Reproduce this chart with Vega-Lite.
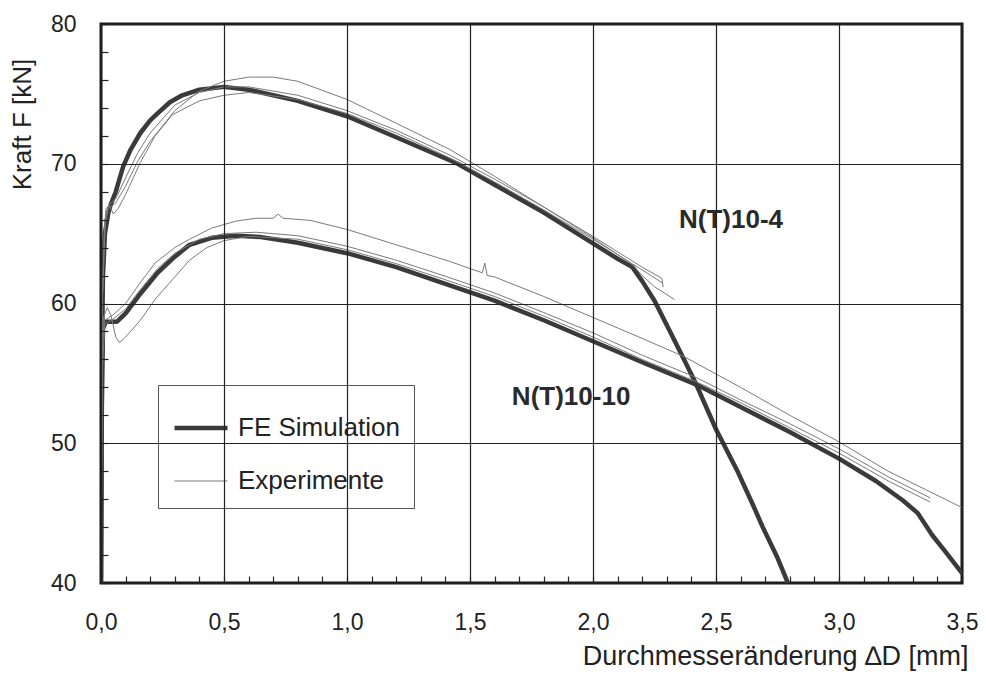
{
  "$schema": "https://vega.github.io/schema/vega-lite/v6.json",
  "width": 861,
  "height": 559,
  "autosize": {"type": "none"},
  "padding": {"left": 101, "top": 24, "right": 24, "bottom": 100},
  "background": "white",
  "config": {
    "view": {"stroke": "#1a1a1a", "strokeWidth": 3},
    "font": "Liberation Sans"
  },
  "datasets": {
    "curves": [
      {"s":"FE4","t":"FE Simulation","x":0,"y":40},{"s":"FE4","t":"FE Simulation","x":0.003,"y":55},{"s":"FE4","t":"FE Simulation","x":0.008,"y":62},{"s":"FE4","t":"FE Simulation","x":0.016,"y":65},{"s":"FE4","t":"FE Simulation","x":0.03,"y":66.5},{"s":"FE4","t":"FE Simulation","x":0.04,"y":67.1},{"s":"FE4","t":"FE Simulation","x":0.06,"y":68},{"s":"FE4","t":"FE Simulation","x":0.09,"y":69.8},{"s":"FE4","t":"FE Simulation","x":0.12,"y":71},{"s":"FE4","t":"FE Simulation","x":0.16,"y":72.2},{"s":"FE4","t":"FE Simulation","x":0.2,"y":73.1},{"s":"FE4","t":"FE Simulation","x":0.23,"y":73.6},{"s":"FE4","t":"FE Simulation","x":0.28,"y":74.4},{"s":"FE4","t":"FE Simulation","x":0.33,"y":74.9},{"s":"FE4","t":"FE Simulation","x":0.4,"y":75.3},{"s":"FE4","t":"FE Simulation","x":0.5,"y":75.5},{"s":"FE4","t":"FE Simulation","x":0.6,"y":75.3},{"s":"FE4","t":"FE Simulation","x":0.7,"y":74.9},{"s":"FE4","t":"FE Simulation","x":0.8,"y":74.5},{"s":"FE4","t":"FE Simulation","x":1.0,"y":73.4},{"s":"FE4","t":"FE Simulation","x":1.2,"y":71.9},{"s":"FE4","t":"FE Simulation","x":1.45,"y":70},{"s":"FE4","t":"FE Simulation","x":1.6,"y":68.5},{"s":"FE4","t":"FE Simulation","x":1.8,"y":66.5},{"s":"FE4","t":"FE Simulation","x":2.0,"y":64.3},{"s":"FE4","t":"FE Simulation","x":2.1,"y":63.2},{"s":"FE4","t":"FE Simulation","x":2.16,"y":62.6},{"s":"FE4","t":"FE Simulation","x":2.2,"y":61.6},{"s":"FE4","t":"FE Simulation","x":2.25,"y":60.2},{"s":"FE4","t":"FE Simulation","x":2.31,"y":58.1},{"s":"FE4","t":"FE Simulation","x":2.37,"y":56},{"s":"FE4","t":"FE Simulation","x":2.42,"y":54.2},{"s":"FE4","t":"FE Simulation","x":2.5,"y":51},{"s":"FE4","t":"FE Simulation","x":2.59,"y":47.9},{"s":"FE4","t":"FE Simulation","x":2.65,"y":45.6},{"s":"FE4","t":"FE Simulation","x":2.69,"y":44},{"s":"FE4","t":"FE Simulation","x":2.75,"y":41.8},{"s":"FE4","t":"FE Simulation","x":2.79,"y":40.1},

      {"s":"FE10","t":"FE Simulation","x":0,"y":40},{"s":"FE10","t":"FE Simulation","x":0.003,"y":52},{"s":"FE10","t":"FE Simulation","x":0.008,"y":58.2},{"s":"FE10","t":"FE Simulation","x":0.02,"y":58.7},{"s":"FE10","t":"FE Simulation","x":0.065,"y":58.7},{"s":"FE10","t":"FE Simulation","x":0.1,"y":59.3},{"s":"FE10","t":"FE Simulation","x":0.16,"y":60.7},{"s":"FE10","t":"FE Simulation","x":0.23,"y":62.2},{"s":"FE10","t":"FE Simulation","x":0.29,"y":63.2},{"s":"FE10","t":"FE Simulation","x":0.36,"y":64.2},{"s":"FE10","t":"FE Simulation","x":0.45,"y":64.7},{"s":"FE10","t":"FE Simulation","x":0.55,"y":64.85},{"s":"FE10","t":"FE Simulation","x":0.65,"y":64.75},{"s":"FE10","t":"FE Simulation","x":0.8,"y":64.35},{"s":"FE10","t":"FE Simulation","x":1.0,"y":63.6},{"s":"FE10","t":"FE Simulation","x":1.2,"y":62.6},{"s":"FE10","t":"FE Simulation","x":1.4,"y":61.4},{"s":"FE10","t":"FE Simulation","x":1.6,"y":60.2},{"s":"FE10","t":"FE Simulation","x":1.8,"y":58.8},{"s":"FE10","t":"FE Simulation","x":2.0,"y":57.3},{"s":"FE10","t":"FE Simulation","x":2.2,"y":55.8},{"s":"FE10","t":"FE Simulation","x":2.42,"y":54.2},{"s":"FE10","t":"FE Simulation","x":2.6,"y":52.6},{"s":"FE10","t":"FE Simulation","x":2.8,"y":50.8},{"s":"FE10","t":"FE Simulation","x":3.0,"y":48.9},{"s":"FE10","t":"FE Simulation","x":3.15,"y":47.3},{"s":"FE10","t":"FE Simulation","x":3.26,"y":45.9},{"s":"FE10","t":"FE Simulation","x":3.32,"y":45},{"s":"FE10","t":"FE Simulation","x":3.38,"y":43.4},{"s":"FE10","t":"FE Simulation","x":3.43,"y":42.3},{"s":"FE10","t":"FE Simulation","x":3.5,"y":40.7},

      {"s":"E4a","t":"Experimente","x":0,"y":40},{"s":"E4a","t":"Experimente","x":0.005,"y":60},{"s":"E4a","t":"Experimente","x":0.015,"y":65.5},{"s":"E4a","t":"Experimente","x":0.03,"y":66.8},{"s":"E4a","t":"Experimente","x":0.06,"y":67.2},{"s":"E4a","t":"Experimente","x":0.1,"y":68.4},{"s":"E4a","t":"Experimente","x":0.15,"y":70.2},{"s":"E4a","t":"Experimente","x":0.2,"y":71.6},{"s":"E4a","t":"Experimente","x":0.3,"y":73.8},{"s":"E4a","t":"Experimente","x":0.4,"y":75.2},{"s":"E4a","t":"Experimente","x":0.5,"y":75.9},{"s":"E4a","t":"Experimente","x":0.6,"y":76.2},{"s":"E4a","t":"Experimente","x":0.7,"y":76.2},{"s":"E4a","t":"Experimente","x":0.8,"y":75.9},{"s":"E4a","t":"Experimente","x":1.0,"y":74.6},{"s":"E4a","t":"Experimente","x":1.2,"y":72.9},{"s":"E4a","t":"Experimente","x":1.42,"y":71.0},{"s":"E4a","t":"Experimente","x":1.6,"y":69.1},{"s":"E4a","t":"Experimente","x":1.8,"y":66.9},{"s":"E4a","t":"Experimente","x":2.0,"y":64.8},{"s":"E4a","t":"Experimente","x":2.2,"y":62.6},{"s":"E4a","t":"Experimente","x":2.28,"y":61.8},{"s":"E4a","t":"Experimente","x":2.285,"y":61.2},

      {"s":"E4b","t":"Experimente","x":0,"y":40},{"s":"E4b","t":"Experimente","x":0.005,"y":60},{"s":"E4b","t":"Experimente","x":0.015,"y":66},{"s":"E4b","t":"Experimente","x":0.03,"y":67},{"s":"E4b","t":"Experimente","x":0.06,"y":67.5},{"s":"E4b","t":"Experimente","x":0.1,"y":69},{"s":"E4b","t":"Experimente","x":0.15,"y":70.8},{"s":"E4b","t":"Experimente","x":0.2,"y":72.2},{"s":"E4b","t":"Experimente","x":0.3,"y":74.2},{"s":"E4b","t":"Experimente","x":0.4,"y":75.1},{"s":"E4b","t":"Experimente","x":0.5,"y":75.5},{"s":"E4b","t":"Experimente","x":0.6,"y":75.5},{"s":"E4b","t":"Experimente","x":0.8,"y":74.9},{"s":"E4b","t":"Experimente","x":1.0,"y":73.8},{"s":"E4b","t":"Experimente","x":1.2,"y":72.4},{"s":"E4b","t":"Experimente","x":1.42,"y":70.6},{"s":"E4b","t":"Experimente","x":1.6,"y":68.9},{"s":"E4b","t":"Experimente","x":1.8,"y":66.9},{"s":"E4b","t":"Experimente","x":2.0,"y":64.7},{"s":"E4b","t":"Experimente","x":2.16,"y":62.8},{"s":"E4b","t":"Experimente","x":2.2,"y":62},{"s":"E4b","t":"Experimente","x":2.25,"y":61.2},{"s":"E4b","t":"Experimente","x":2.33,"y":60.3},

      {"s":"E4c","t":"Experimente","x":0,"y":40},{"s":"E4c","t":"Experimente","x":0.005,"y":60},{"s":"E4c","t":"Experimente","x":0.02,"y":66.8},{"s":"E4c","t":"Experimente","x":0.035,"y":67},{"s":"E4c","t":"Experimente","x":0.05,"y":66.4},{"s":"E4c","t":"Experimente","x":0.07,"y":66.8},{"s":"E4c","t":"Experimente","x":0.1,"y":67.8},{"s":"E4c","t":"Experimente","x":0.16,"y":70.1},{"s":"E4c","t":"Experimente","x":0.22,"y":72},{"s":"E4c","t":"Experimente","x":0.29,"y":73.5},{"s":"E4c","t":"Experimente","x":0.4,"y":74.5},{"s":"E4c","t":"Experimente","x":0.5,"y":74.9},{"s":"E4c","t":"Experimente","x":0.6,"y":75.1},{"s":"E4c","t":"Experimente","x":0.8,"y":74.6},{"s":"E4c","t":"Experimente","x":1.0,"y":73.6},{"s":"E4c","t":"Experimente","x":1.2,"y":72.2},{"s":"E4c","t":"Experimente","x":1.42,"y":70.4},{"s":"E4c","t":"Experimente","x":1.6,"y":68.7},{"s":"E4c","t":"Experimente","x":1.8,"y":66.7},{"s":"E4c","t":"Experimente","x":2.0,"y":64.6},{"s":"E4c","t":"Experimente","x":2.2,"y":62.4},{"s":"E4c","t":"Experimente","x":2.28,"y":61.5},

      {"s":"E10a","t":"Experimente","x":0,"y":40},{"s":"E10a","t":"Experimente","x":0.005,"y":57},{"s":"E10a","t":"Experimente","x":0.015,"y":58.8},{"s":"E10a","t":"Experimente","x":0.05,"y":59.2},{"s":"E10a","t":"Experimente","x":0.1,"y":60},{"s":"E10a","t":"Experimente","x":0.16,"y":61.5},{"s":"E10a","t":"Experimente","x":0.22,"y":62.9},{"s":"E10a","t":"Experimente","x":0.3,"y":64},{"s":"E10a","t":"Experimente","x":0.36,"y":64.6},{"s":"E10a","t":"Experimente","x":0.45,"y":65.4},{"s":"E10a","t":"Experimente","x":0.55,"y":65.9},{"s":"E10a","t":"Experimente","x":0.63,"y":66.1},{"s":"E10a","t":"Experimente","x":0.7,"y":66.1},{"s":"E10a","t":"Experimente","x":0.72,"y":66.4},{"s":"E10a","t":"Experimente","x":0.74,"y":66.1},{"s":"E10a","t":"Experimente","x":0.85,"y":65.95},{"s":"E10a","t":"Experimente","x":1.0,"y":65.3},{"s":"E10a","t":"Experimente","x":1.2,"y":64.2},{"s":"E10a","t":"Experimente","x":1.42,"y":63.0},{"s":"E10a","t":"Experimente","x":1.5,"y":62.5},{"s":"E10a","t":"Experimente","x":1.55,"y":62.2},{"s":"E10a","t":"Experimente","x":1.56,"y":62.9},{"s":"E10a","t":"Experimente","x":1.57,"y":62.0},{"s":"E10a","t":"Experimente","x":1.6,"y":61.9},{"s":"E10a","t":"Experimente","x":1.8,"y":60.5},{"s":"E10a","t":"Experimente","x":2.0,"y":59.0},{"s":"E10a","t":"Experimente","x":2.2,"y":57.5},{"s":"E10a","t":"Experimente","x":2.37,"y":56.2},{"s":"E10a","t":"Experimente","x":2.6,"y":54.0},{"s":"E10a","t":"Experimente","x":2.8,"y":52.0},{"s":"E10a","t":"Experimente","x":2.99,"y":50.2},{"s":"E10a","t":"Experimente","x":3.2,"y":48.0},{"s":"E10a","t":"Experimente","x":3.5,"y":45.4},

      {"s":"E10b","t":"Experimente","x":0,"y":40},{"s":"E10b","t":"Experimente","x":0.005,"y":55},{"s":"E10b","t":"Experimente","x":0.015,"y":58.5},{"s":"E10b","t":"Experimente","x":0.05,"y":58.9},{"s":"E10b","t":"Experimente","x":0.1,"y":59.6},{"s":"E10b","t":"Experimente","x":0.16,"y":61},{"s":"E10b","t":"Experimente","x":0.23,"y":62.5},{"s":"E10b","t":"Experimente","x":0.3,"y":63.6},{"s":"E10b","t":"Experimente","x":0.4,"y":64.6},{"s":"E10b","t":"Experimente","x":0.5,"y":65.0},{"s":"E10b","t":"Experimente","x":0.63,"y":65.1},{"s":"E10b","t":"Experimente","x":0.8,"y":64.85},{"s":"E10b","t":"Experimente","x":1.0,"y":64.1},{"s":"E10b","t":"Experimente","x":1.2,"y":63.1},{"s":"E10b","t":"Experimente","x":1.4,"y":61.95},{"s":"E10b","t":"Experimente","x":1.6,"y":60.75},{"s":"E10b","t":"Experimente","x":1.8,"y":59.35},{"s":"E10b","t":"Experimente","x":2.0,"y":57.9},{"s":"E10b","t":"Experimente","x":2.2,"y":56.3},{"s":"E10b","t":"Experimente","x":2.42,"y":54.7},{"s":"E10b","t":"Experimente","x":2.6,"y":53.1},{"s":"E10b","t":"Experimente","x":2.8,"y":51.4},{"s":"E10b","t":"Experimente","x":3.0,"y":49.6},{"s":"E10b","t":"Experimente","x":3.2,"y":47.6},{"s":"E10b","t":"Experimente","x":3.37,"y":46.1},

      {"s":"E10c","t":"Experimente","x":0,"y":40},{"s":"E10c","t":"Experimente","x":0.005,"y":56},{"s":"E10c","t":"Experimente","x":0.01,"y":59},{"s":"E10c","t":"Experimente","x":0.025,"y":59.7},{"s":"E10c","t":"Experimente","x":0.04,"y":59.2},{"s":"E10c","t":"Experimente","x":0.06,"y":57.6},{"s":"E10c","t":"Experimente","x":0.075,"y":57.2},{"s":"E10c","t":"Experimente","x":0.1,"y":57.6},{"s":"E10c","t":"Experimente","x":0.16,"y":58.8},{"s":"E10c","t":"Experimente","x":0.22,"y":60.3},{"s":"E10c","t":"Experimente","x":0.29,"y":61.7},{"s":"E10c","t":"Experimente","x":0.36,"y":63.1},{"s":"E10c","t":"Experimente","x":0.43,"y":64},{"s":"E10c","t":"Experimente","x":0.5,"y":64.5},{"s":"E10c","t":"Experimente","x":0.6,"y":64.8},{"s":"E10c","t":"Experimente","x":0.8,"y":64.6},{"s":"E10c","t":"Experimente","x":1.0,"y":63.85},{"s":"E10c","t":"Experimente","x":1.2,"y":62.85},{"s":"E10c","t":"Experimente","x":1.4,"y":61.7},{"s":"E10c","t":"Experimente","x":1.6,"y":60.5},{"s":"E10c","t":"Experimente","x":1.8,"y":59.1},{"s":"E10c","t":"Experimente","x":2.0,"y":57.6},{"s":"E10c","t":"Experimente","x":2.2,"y":56.0},{"s":"E10c","t":"Experimente","x":2.42,"y":54.4},{"s":"E10c","t":"Experimente","x":2.6,"y":52.9},{"s":"E10c","t":"Experimente","x":2.8,"y":51.1},{"s":"E10c","t":"Experimente","x":3.0,"y":49.3},{"s":"E10c","t":"Experimente","x":3.2,"y":47.3},{"s":"E10c","t":"Experimente","x":3.37,"y":45.8}
    ],
    "labels": [
      {"x": 2.561, "y": 65.97, "label": "N(T)10-4"},
      {"x": 1.911, "y": 53.31, "label": "N(T)10-10"}
    ]
  },
  "encoding": {
    "x": {
      "field": "x", "type": "quantitative",
      "scale": {"domain": [0, 3.5], "nice": false, "zero": false},
      "title": "Durchmesseränderung ∆D [mm]",
      "axis": {
        "values": [0,0.1,0.2,0.3,0.4,0.5,0.6,0.7,0.8,0.9,1,1.1,1.2,1.3,1.4,1.5,1.6,1.7,1.8,1.9,2,2.1,2.2,2.3,2.4,2.5,2.6,2.7,2.8,2.9,3,3.1,3.2,3.3,3.4,3.5],
        "labelExpr": "abs(datum.value*2 - round(datum.value*2)) < 0.001 ? replace(format(datum.value, '.1f'), '.', ',') : ''",
        "labelOverlap": false,
        "labelFlush": false,
        "labelFontSize": 23,
        "labelColor": "#222",
        "labelPadding": 35,
        "domain": false,
        "ticks": true,
        "tickSize": -7,
        "tickColor": "#222",
        "tickWidth": 1.2,
        "grid": true,
        "gridColor": "#222",
        "gridWidth": 1.2,
        "gridOpacity": {"condition": {"test": "abs(datum.value*2 - round(datum.value*2)) < 0.001", "value": 1}, "value": 0},
        "titleFontSize": 27,
        "titleFontWeight": "normal",
        "titleColor": "#222",
        "titleAnchor": "end",
        "titleAlign": "right",
        "titleX": 867,
        "titlePadding": 9,
        "zindex": 1
      }
    },
    "y": {
      "field": "y", "type": "quantitative",
      "scale": {"domain": [40, 80], "nice": false, "zero": false},
      "title": "Kraft F [kN]",
      "axis": {
        "values": [40,42,44,46,48,50,52,54,56,58,60,62,64,66,68,70,72,74,76,78,80],
        "labelExpr": "datum.value % 10 == 0 ? datum.label : ''",
        "labelOverlap": false,
        "labelFlush": false,
        "labelFontSize": 23,
        "labelColor": "#222",
        "labelPadding": 32,
        "domain": false,
        "ticks": true,
        "tickSize": -7,
        "tickColor": "#222",
        "tickWidth": 1.2,
        "grid": true,
        "gridColor": "#222",
        "gridWidth": 1.2,
        "gridOpacity": {"condition": {"test": "datum.value % 10 == 0", "value": 1}, "value": 0},
        "titleFontSize": 26,
        "titleFontWeight": "normal",
        "titleColor": "#222",
        "titleX": -79,
        "titleY": 100,
        "titleAngle": -90,
        "titleAlign": "center",
        "titleBaseline": "middle",
        "zindex": 1
      }
    }
  },
  "layer": [
    {
      "data": {"name": "curves"},
      "mark": {"type": "line", "clip": true, "strokeJoin": "round", "strokeCap": "round"},
      "encoding": {
        "detail": {"field": "s", "type": "nominal"},
        "color": {
          "field": "t", "type": "nominal",
          "scale": {"domain": ["FE Simulation", "Experimente"], "range": ["#3a3a3a", "#7a7a7a"]},
          "legend": {
            "orient": "none",
            "legendX": 57,
            "legendY": 361,
            "title": null,
            "symbolType": "stroke",
            "symbolSize": 2809,
            "labelFontSize": 26,
            "labelColor": "#222",
            "labelOffset": 8,
            "labelLimit": 400,
            "padding": 14,
            "rowPadding": 13,
            "strokeColor": "#555",
            "fillColor": "white"
          }
        },
        "strokeWidth": {
          "field": "t", "type": "nominal",
          "scale": {"domain": ["FE Simulation", "Experimente"], "range": [4.5, 1]}
        }
      }
    },
    {
      "data": {"name": "labels"},
      "mark": {"type": "text", "fontSize": 26, "fontWeight": "bold", "color": "#2a2a2a", "align": "center", "baseline": "middle"},
      "encoding": {
        "text": {"field": "label", "type": "nominal"}
      }
    }
  ]
}
